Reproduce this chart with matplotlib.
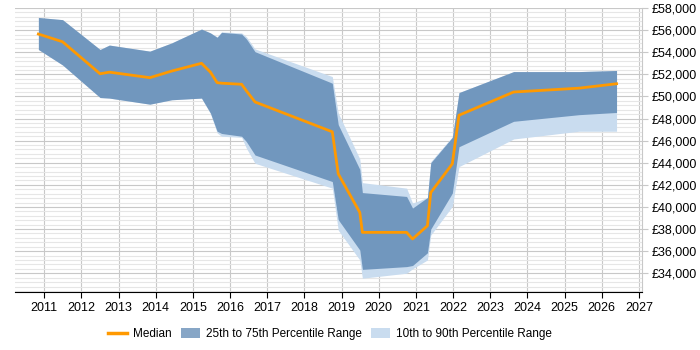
import matplotlib

matplotlib.use("Agg")
import matplotlib.pyplot as plt  # noqa: E402
from matplotlib.patches import Patch  # noqa: E402
from matplotlib.lines import Line2D  # noqa: E402
from matplotlib.ticker import FuncFormatter, MultipleLocator  # noqa: E402

plt.rcParams["font.family"] = ["Liberation Sans", "DejaVu Sans"]

# decimal years of each sample
years = [2010.84, 2011.49, 2012.50, 2012.75, 2013.84, 2014.43, 2015.23, 2015.47,
         2015.65, 2015.77, 2016.31, 2016.44, 2016.67, 2018.75, 2018.91, 2019.49,
         2019.56, 2020.75, 2020.91, 2021.31, 2021.40, 2021.98, 2022.16, 2023.63,
         2025.39, 2026.40]

median = [55650, 54950, 52050, 52200, 51700, 52300, 53000, 52200,
          51250, 51200, 51100, 50500, 49500, 46800, 43000, 39500,
          37700, 37700, 37100, 38300, 41300, 43900, 48300, 50400,
          50750, 51150]

p75 = [57150, 56950, 54250, 54650, 54100, 54850, 56100, 55750,
       55350, 55800, 55650, 55200, 54050, 51200, 47450, 43400,
       41300, 40950, 39900, 40850, 44000, 46300, 50350, 52250,
       52250, 52350]

p25 = [54250, 52850, 49900, 49850, 49300, 49700, 49850, 48500,
       46850, 46650, 46400, 45900, 44700, 42300, 38850, 36100,
       34350, 34600, 34700, 35850, 38000, 41250, 45450, 47750,
       48350, 48550]

p90 = [57150, 56950, 54250, 54650, 54100, 54850, 56100, 55750,
       55400, 55850, 55750, 55400, 54300, 51800, 48500, 44350,
       42200, 41700, 40350, 40850, 44100, 46350, 50350, 52250,
       52250, 52350]

p10 = [54250, 52850, 49900, 49850, 49300, 49700, 49850, 48450,
       46700, 46400, 46300, 45300, 43950, 41700, 37900, 35200,
       33550, 34000, 34400, 35200, 37450, 40050, 43650, 46150,
       46850, 46850]

DARK = "#5480ae"
LIGHT = "#c9dcef"

fig = plt.figure(figsize=(7, 3.5), dpi=100)
ax = fig.add_axes([0.0214, 0.165, 0.896, 0.812])

ax.fill_between(years, p10, p90, color=LIGHT, lw=0, zorder=2)
ax.fill_between(years, p25, p75, color=DARK, alpha=0.75, lw=0, zorder=3)
ax.plot(years, median, color="#ff9900", lw=2, zorder=4)

ax.set_xlim(2010.21, 2027.09)
ax.xaxis.set_major_locator(MultipleLocator(1))
ax.xaxis.set_major_formatter(FuncFormatter(lambda v, p: f"{int(round(v))}"))
ax.yaxis.set_major_locator(MultipleLocator(2000))
ax.yaxis.set_minor_locator(MultipleLocator(400))
ax.yaxis.set_major_formatter(FuncFormatter(lambda v, p: f"£{int(v):,}"))
ax.yaxis.tick_right()
ax.set_ylim(32280, 58000)

ax.grid(True, which="major", color="#c8c8c8", lw=0.8, zorder=1)
ax.grid(True, which="minor", axis="y", color="#e6e6e6", lw=0.8, zorder=1)
ax.set_axisbelow(True)

for s in ["top", "left"]:
    ax.spines[s].set_visible(False)
ax.spines["right"].set_color("#c8c8c8")
ax.spines["bottom"].set_color("black")
ax.tick_params(axis="x", length=4, color="black", labelsize=9, pad=3)
ax.tick_params(axis="y", which="major", length=4, color="#c8c8c8", labelsize=9, pad=3)
ax.tick_params(axis="y", which="minor", length=0)

handles = [Line2D([], [], color="#ff9900", lw=2.5),
           Patch(facecolor=DARK, alpha=0.7, lw=0),
           Patch(facecolor=LIGHT, lw=0)]
labels = ["Median", "25th to 75th Percentile Range", "10th to 90th Percentile Range"]
fig.legend(handles, labels, loc="center", bbox_to_anchor=(0.471, 0.045), ncol=3,
           frameon=False, fontsize=8.5, handlelength=1.6, handleheight=0.9,
           columnspacing=0.8, handletextpad=0.5)

fig.savefig("out.png", dpi=100)
